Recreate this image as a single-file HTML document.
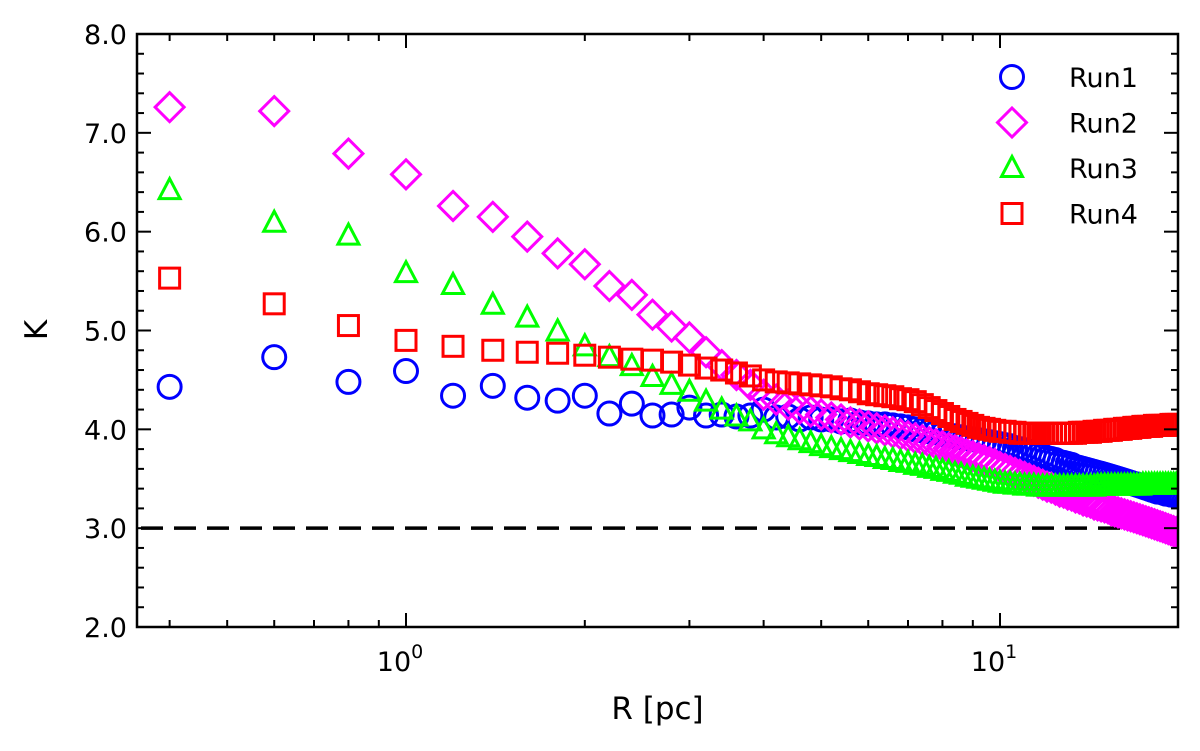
<!DOCTYPE html>
<html><head><meta charset="utf-8"><style>
body{margin:0;background:#fff}
svg{display:block;font-family:"DejaVu Sans","Liberation Sans",sans-serif}
.tk{font-size:27px}
.ax{font-size:31px}
.lg{font-size:27px}
</style></head><body>
<svg id="chart" width="1200" height="751" viewBox="0 0 1200 751" xmlns="http://www.w3.org/2000/svg">
<g id="marks"></g>
<g id="axes"></g>
<g id="legend"></g>
</svg>
<script>
const radii = [0.4,0.6,0.8,1.0,1.2,1.4,1.6,1.8,2.0,2.2,2.4,2.6,2.8,3.0,3.2,3.4,3.6,3.8,4.0,
4.2,4.4,4.6,4.8,5.0,5.2,5.4,5.6,5.8,6.0,6.2,6.4,6.6,6.8,7.0,7.2,7.4,7.6,7.8,8.0,
8.2,8.4,8.6,8.8,9.0,9.2,9.4,9.6,9.8,10.0,10.2,10.4,10.6,10.8,11.0,11.2,11.4,11.6,11.8,12.0,
12.2,12.4,12.6,12.8,13.0,13.2,13.4,13.6,13.8,14.0,14.2,14.4,14.6,14.8,15.0,15.2,15.4,15.6,15.8,16.0,
16.2,16.4,16.6,16.8,17.0,17.2,17.4,17.6,17.8,18.0,18.2,18.4,18.6,18.8,19.0,19.2,19.4,19.6,19.8,20.0];
const run1 = [4.43,4.73,4.48,4.59,4.34,4.44,4.32,4.29,4.34,4.16,4.26,4.14,4.15,4.22,4.14,4.15,4.13,4.14,4.20,
4.12,4.13,4.10,4.12,4.10,4.10,4.08,4.09,4.07,4.06,4.05,4.05,4.04,4.03,4.02,4.00,3.99,3.98,3.97,3.95,
3.94,3.93,3.92,3.91,3.90,3.89,3.88,3.87,3.86,3.85,3.84,3.83,3.81,3.80,3.79,3.77,3.76,3.74,3.73,3.71,
3.70,3.69,3.67,3.66,3.65,3.64,3.62,3.61,3.60,3.59,3.58,3.57,3.56,3.55,3.54,3.53,3.52,3.51,3.50,3.49,
3.48,3.47,3.46,3.45,3.44,3.43,3.42,3.41,3.40,3.39,3.38,3.37,3.37,3.36,3.35,3.35,3.34,3.34,3.33,3.33];
const run2 = [7.26,7.22,6.79,6.58,6.26,6.15,5.95,5.78,5.67,5.45,5.36,5.16,5.04,4.93,4.78,4.65,4.55,4.45,4.35,
4.30,4.25,4.21,4.18,4.15,4.12,4.10,4.07,4.05,4.03,4.01,3.99,3.97,3.95,3.93,3.91,3.89,3.87,3.85,3.83,
3.81,3.79,3.77,3.75,3.73,3.71,3.69,3.67,3.65,3.62,3.60,3.58,3.56,3.54,3.52,3.50,3.48,3.46,3.44,3.42,
3.41,3.39,3.37,3.36,3.34,3.33,3.31,3.30,3.28,3.27,3.26,3.24,3.23,3.22,3.21,3.20,3.18,3.17,3.16,3.15,
3.14,3.13,3.12,3.11,3.10,3.09,3.08,3.07,3.06,3.05,3.04,3.03,3.02,3.01,3.00,2.99,2.98,2.97,2.96,2.95];
const run3 = [6.42,6.09,5.96,5.58,5.46,5.26,5.13,4.99,4.84,4.73,4.64,4.53,4.45,4.38,4.28,4.20,4.13,4.08,4.00,
3.95,3.92,3.89,3.86,3.83,3.81,3.79,3.77,3.75,3.73,3.72,3.70,3.69,3.67,3.66,3.64,3.63,3.61,3.60,3.58,
3.57,3.55,3.54,3.52,3.51,3.50,3.49,3.48,3.47,3.46,3.45,3.45,3.44,3.44,3.43,3.43,3.43,3.42,3.42,3.42,
3.42,3.42,3.42,3.42,3.42,3.42,3.42,3.42,3.42,3.42,3.42,3.42,3.43,3.43,3.43,3.43,3.43,3.43,3.43,3.43,
3.43,3.43,3.43,3.43,3.43,3.43,3.44,3.44,3.44,3.44,3.44,3.44,3.44,3.44,3.44,3.44,3.44,3.44,3.44,3.44];
const run4 = [5.53,5.27,5.05,4.90,4.84,4.80,4.78,4.77,4.75,4.73,4.71,4.70,4.68,4.65,4.62,4.60,4.57,4.54,4.50,
4.48,4.47,4.46,4.45,4.44,4.43,4.41,4.40,4.38,4.36,4.35,4.34,4.33,4.31,4.30,4.28,4.25,4.22,4.19,4.16,
4.13,4.10,4.08,4.06,4.04,4.02,4.01,4.00,3.99,3.98,3.98,3.97,3.97,3.96,3.96,3.96,3.96,3.96,3.96,3.96,
3.96,3.96,3.96,3.96,3.96,3.96,3.96,3.97,3.97,3.97,3.97,3.98,3.98,3.98,3.99,3.99,3.99,4.00,4.00,4.00,
4.01,4.01,4.01,4.02,4.02,4.02,4.03,4.03,4.03,4.03,4.04,4.04,4.04,4.04,4.04,4.04,4.05,4.05,4.05,4.05];
const yTicks = [2.0,3.0,4.0,5.0,6.0,7.0,8.0];
const seriesNames = ["Run1","Run2","Run3","Run4"];
const refLine = 3.0;

const NS="http://www.w3.org/2000/svg";
const L=137,R=1178,T=34,B=627;
const X0=406, DEC=594;
function xs(v){return X0+Math.log10(v)*DEC;}
function ys(v){return B-(v-2)/6*(B-T);}
function mk(tag,attrs,parent){const e=document.createElementNS(NS,tag);for(const k in attrs)e.setAttribute(k,attrs[k]);parent.appendChild(e);return e;}
const marks=document.getElementById('marks'),axes=document.getElementById('axes'),leg=document.getElementById('legend');

function drawMarker(kind,cx,cy,parent){
  let e;
  if(kind==="circle"){e=mk('circle',{cx:cx,cy:cy,r:11.5,fill:'none',stroke:'#0000ff','stroke-width':3},parent);}
  else if(kind==="diamond"){e=mk('polygon',{points:`${cx},${cy-14.5} ${cx+14.5},${cy} ${cx},${cy+14.5} ${cx-14.5},${cy}`,fill:'none',stroke:'#ff00ff','stroke-width':3},parent);}
  else if(kind==="tri"){e=mk('polygon',{points:`${cx},${cy-11.5} ${cx+10.5},${cy+8.5} ${cx-10.5},${cy+8.5}`,fill:'none',stroke:'#00ff00','stroke-width':3},parent);}
  else {e=mk('rect',{x:cx-10,y:cy-10,width:20,height:20,fill:'none',stroke:'#ff0000','stroke-width':3},parent);}
  return e;
}
const defs=mk('defs',{},marks);
const cp=mk('clipPath',{id:'clip'},defs);mk('rect',{x:L,y:T,width:R-L,height:B-T},cp);
const plot=mk('g',{'clip-path':'url(#clip)'},marks);
const ref=mk('line',{x1:L+4,x2:R,y1:ys(refLine),y2:ys(refLine),stroke:'#000','stroke-width':3.5,'stroke-dasharray':'22,11'},plot);


const allSeries=[run1,run2,run3,run4];
const kinds=["circle","diamond","tri","square"];
allSeries.forEach((s,si)=>{
  const g=mk('g',{},plot);
  
  
  s.forEach((v,i)=>{
    const m=drawMarker(kinds[si],xs(radii[i]),ys(v),g);
    
    
  });
});
const fr=mk('rect',{x:L,y:T,width:R-L,height:B-T,fill:'none',stroke:'#000','stroke-width':2.5},axes);


for(let v=2;v<=8.001;v+=0.2){
  const y=ys(v);const major=Math.abs(v-Math.round(v))<0.01;const len=major?14:7;
  mk('line',{x1:L,x2:L+len,y1:y,y2:y,stroke:'#000','stroke-width':2},axes);
  mk('line',{x1:R,x2:R-len,y1:y,y2:y,stroke:'#000','stroke-width':2},axes);
}
yTicks.forEach(v=>{
  const t=mk('text',{x:L-10,y:ys(v)+10,'text-anchor':'end','class':'tk'},axes);t.textContent=v.toFixed(1);
  
  
});
[0.4,0.5,0.6,0.7,0.8,0.9,1,2,3,4,5,6,7,8,9,10,20].forEach(v=>{
  const x=xs(v);if(x<L||x>R)return;const major=(v===1||v===10);const len=major?14:7;
  mk('line',{x1:x,x2:x,y1:B,y2:B-len,stroke:'#000','stroke-width':2},axes);
  mk('line',{x1:x,x2:x,y1:T,y2:T+len,stroke:'#000','stroke-width':2},axes);
});
[[1,'0'],[10,'1']].forEach(([v,e])=>{
  const t=mk('text',{x:xs(v)-6,y:B+44,'text-anchor':'middle','class':'tk'},axes);
  t.textContent='10';
  const s=mk('tspan',{dy:-13,style:'font-size:19px'},t);s.textContent=e;
  
  
});
const xt=mk('text',{x:(L+R)/2,y:719,'text-anchor':'middle','class':'ax'},axes);xt.textContent='R [pc]';


const yt=mk('text',{x:47,y:330,'text-anchor':'middle','class':'ax',transform:'rotate(-90 47 330)'},axes);yt.textContent='K';


seriesNames.forEach((n,i)=>{
  const y=77+i*45.5;
  const g=mk('g',{},leg);
  
  
  drawMarker(kinds[i],1012,y,g);
  const t=mk('text',{x:1069,y:y+10,'class':'lg'},g);t.textContent=n;
});
</script>
</body></html>
